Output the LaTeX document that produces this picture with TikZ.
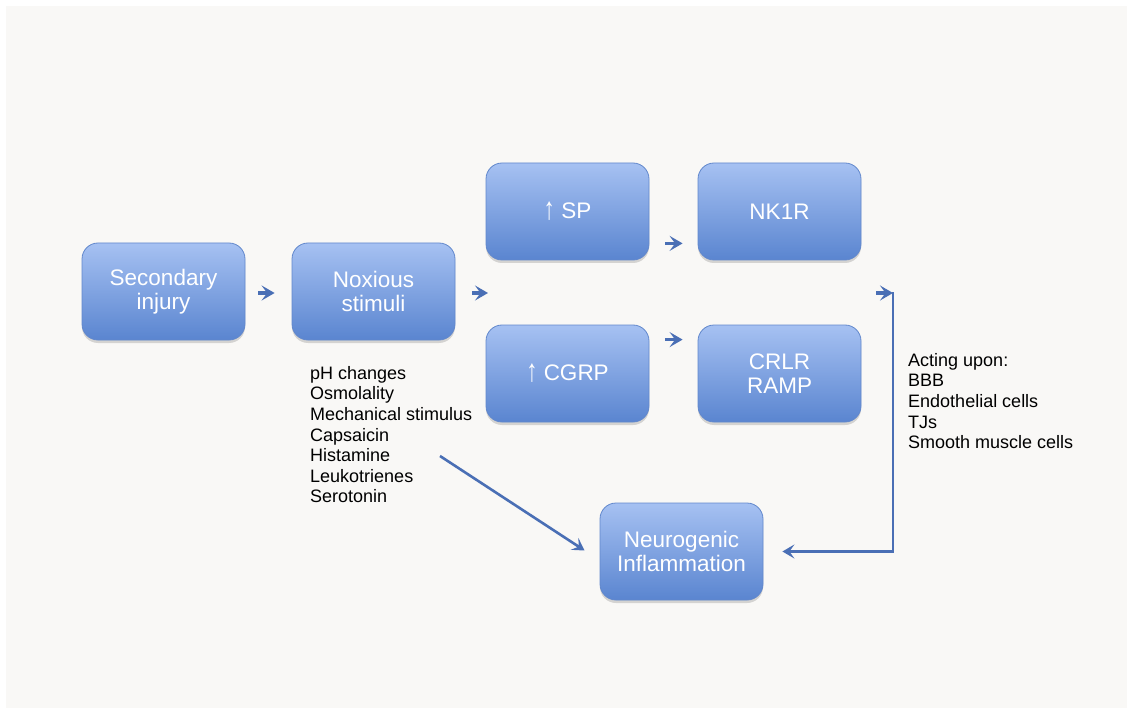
\documentclass[tikz,border=0pt]{standalone}
\usepackage{fontspec}
\setmainfont{Liberation Sans}
\usetikzlibrary{arrows.meta,shadows,calc}
\definecolor{panel}{HTML}{F9F8F6}
\definecolor{boxtop}{HTML}{A6C1F2}
\definecolor{boxbot}{HTML}{5A85D0}
\definecolor{boxline}{HTML}{6288CC}
\definecolor{arr}{HTML}{4A6FB5}
\newcommand{\uparr}{\raisebox{-1pt}{\scalebox{1}[1.4]{↑}}}
\tikzset{
  box/.style={rounded corners=16pt, minimum width=163pt, minimum height=97pt,
    draw=boxline, line width=0.8pt, top color=boxtop, bottom color=boxbot,
    text=white, align=center, inner sep=0pt,
    font=\fontsize{22.5}{23.5}\selectfont,
    drop shadow={shadow xshift=0pt, shadow yshift=-3pt, opacity=0.25, fill=black!60}},
  chev/.style={draw=arr, line width=3.2pt, -{Stealth[length=13pt,width=15pt,inset=5.5pt]}},
  conn/.style={draw=arr, line width=2.6pt, -{Stealth[length=12pt,width=14pt,inset=5pt]}},
  lst/.style={align=left, inner sep=0pt, anchor=north west, text=black,
    font=\fontsize{18}{20.6}\selectfont}
}
\begin{document}
\begin{tikzpicture}[x=1pt,y=-1pt]
\useasboundingbox (0,0) rectangle (1127,711);
\fill[white] (0,0) rectangle (1127,711);
\fill[panel] (6,6) rectangle (1127,708);

\node[box] (sec) at (163.5,291.5) {Secondary\\injury};
\node[box] (nox) at (373.5,291.5) {Noxious\\stimuli};
\node[box] (sp) at (567.5,211.5) {\uparr\ SP};
\node[box] (nk) at (779.5,211.5) {NK1R};
\node[box] (cgrp) at (567.5,373.5) {\uparr\ CGRP};
\node[box] (crlr) at (779.5,373.5) {CRLR\\RAMP};
\node[box] (neu) at (681.5,551.5) {Neurogenic\\Inflammation};

\node[lst] (list) at (310,366) {pH changes\\Osmolality\\Mechanical stimulus\\Capsaicin\\Histamine\\Leukotrienes\\Serotonin};
\node[lst] (act) at (908,353) {Acting upon:\\BBB\\Endothelial cells\\TJs\\Smooth muscle cells};

\coordinate (split) at (488,293);
\coordinate (r0) at (876,293);
\coordinate (corner) at (893,293);
\coordinate (d0) at (440,456);

\draw[chev, shorten <=13pt, shorten >=17pt] ($(sec.east)+(0,1.5)$) -- ($(nox.west)+(0,1.5)$);
\draw[chev, shorten <=17pt] ($(nox.east)+(0,1.5)$) -- (split);
\draw[chev, shorten <=16pt, shorten >=15pt] ($(sp.south east)+(0,-17)$) -- ($(nk.south west)+(0,-17)$);
\draw[chev, shorten <=16pt, shorten >=15pt] ($(cgrp.north east)+(0,15)$) -- ($(crlr.north west)+(0,15)$);
\draw[chev] (r0) -- (corner);
\draw[conn, line cap=rect, shorten >=19pt] (corner) |- (neu.east);
\draw[conn] (d0) -- ($(neu.west)+(-15,-1)$);
\end{tikzpicture}
\end{document}
